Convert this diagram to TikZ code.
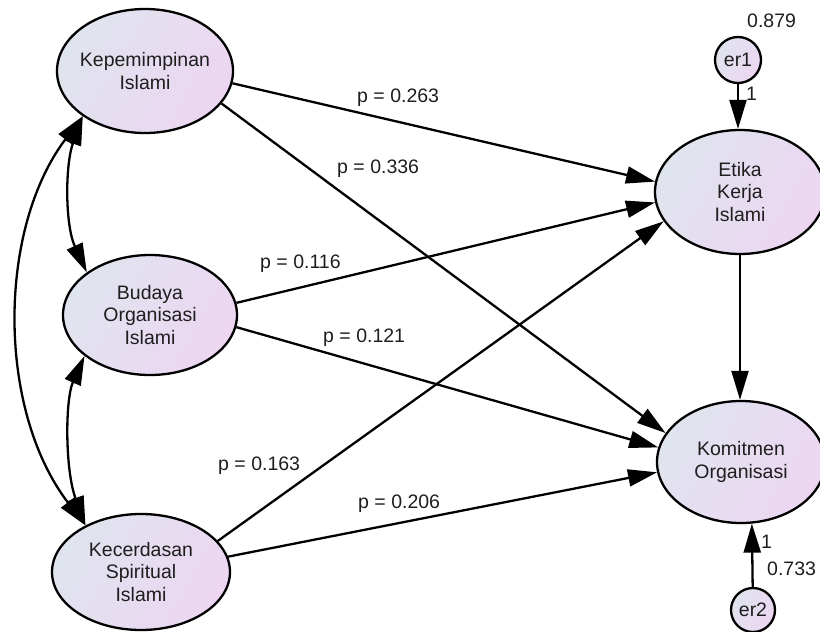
\documentclass[tikz,border=0pt]{standalone}
\usepackage{fontspec}
\setmainfont{Liberation Sans}
\usetikzlibrary{shapes.geometric,arrows.meta}
\definecolor{fillA}{RGB}{224,228,238}
\definecolor{fillB}{RGB}{236,214,242}
\definecolor{ink}{RGB}{30,30,30}
\begin{document}
\begin{tikzpicture}[x=1pt,y=-1pt,
  every node/.style={font=\fontsize{19.5}{22.5}\selectfont, text=ink},
  latent/.style={ellipse, draw=black, line width=2.3pt, inner sep=0pt,
    top color=fillA, bottom color=fillB, shading angle=60},
  errnode/.style={circle, draw=black, line width=2.3pt, inner sep=0pt,
    top color=fillA, bottom color=fillB, shading angle=60, minimum size=46pt},
  inside/.style={align=center, inner sep=0pt},
  causal/.style={-{Triangle[length=29pt,width=17pt]}, line width=2.3pt},
  bidir/.style={{Triangle[length=29pt,width=17pt]}-{Triangle[length=29pt,width=17pt]}, line width=2.3pt},
  plabel/.style={anchor=base west, inner sep=0pt}]
\useasboundingbox (0,0) rectangle (820,632);

% latent variables
\node[latent, minimum width=176pt, minimum height=124pt,
  label={[inside, name=kepT]center:Kepemimpinan\\Islami}] (kep) at (145,71) {};
\node[latent, minimum width=174pt, minimum height=120pt,
  label={[inside, name=budT]center:Budaya\\Organisasi\\Islami}] (bud) at (150,315) {};
\node[latent, minimum width=178pt, minimum height=116pt,
  label={[inside, name=kecT]center:Kecerdasan\\Spiritual\\Islami}] (kec) at (141,572) {};
\node[latent, minimum width=170pt, minimum height=124pt,
  label={[inside, name=etikaT]center:Etika\\Kerja\\Islami}] (etika) at (740,192) {};
\node[latent, minimum width=168pt, minimum height=122pt,
  label={[inside, name=komT]center:Komitmen\\Organisasi}] (kom) at (741,462) {};

% error terms
\node[errnode, label={[inside, name=er1T]center:er1}] (er1) at (738,60) {};
\node[errnode, minimum size=44pt, label={[inside, name=er2T]center:er2}] (er2) at (753,610) {};

% structural paths
\draw[causal] (kep.-8) -- (etika.173);
\draw[causal] (bud.8) -- (etika.187);
\draw[causal] (kec.22) -- (etika.201);
\draw[causal] (kep.-23) -- (kom.159);
\draw[causal] (bud.-8) -- (kom.170);
\draw[causal] (kec.10) -- (kom.187);
\draw[causal] (etika.south) -- (etika.south |- kom.north);
\draw[causal] (er1) -- (er1 |- etika.north);
\draw[causal] (er2) -- (kom.-80);

% covariances between exogenous variables
\draw[bidir] (kep.216) .. controls (-3,230) and (-3,410) .. (kec.140);
\draw[bidir] (kep.216) .. controls (65,165) and (65,225) .. (bud.146);
\draw[bidir] (bud.212) .. controls (65,400) and (65,470) .. (kec.140);

% estimates
\node[plabel] (p1) at (357,102) {p = 0.263};
\node[plabel] (p2) at (337,173) {p = 0.336};
\node[plabel] (p3) at (260,268) {p = 0.116};
\node[plabel] (p4) at (323,342) {p = 0.121};
\node[plabel] (p5) at (218,470) {p = 0.163};
\node[plabel] (p6) at (358,508) {p = 0.206};
\node[plabel] (v1) at (747,27) {0.879};
\node[plabel] (w1) at (746,100) {1};
\node[plabel] (w2) at (761,548) {1};
\node[plabel] (v2) at (767,575) {0.733};
\end{tikzpicture}
\end{document}
